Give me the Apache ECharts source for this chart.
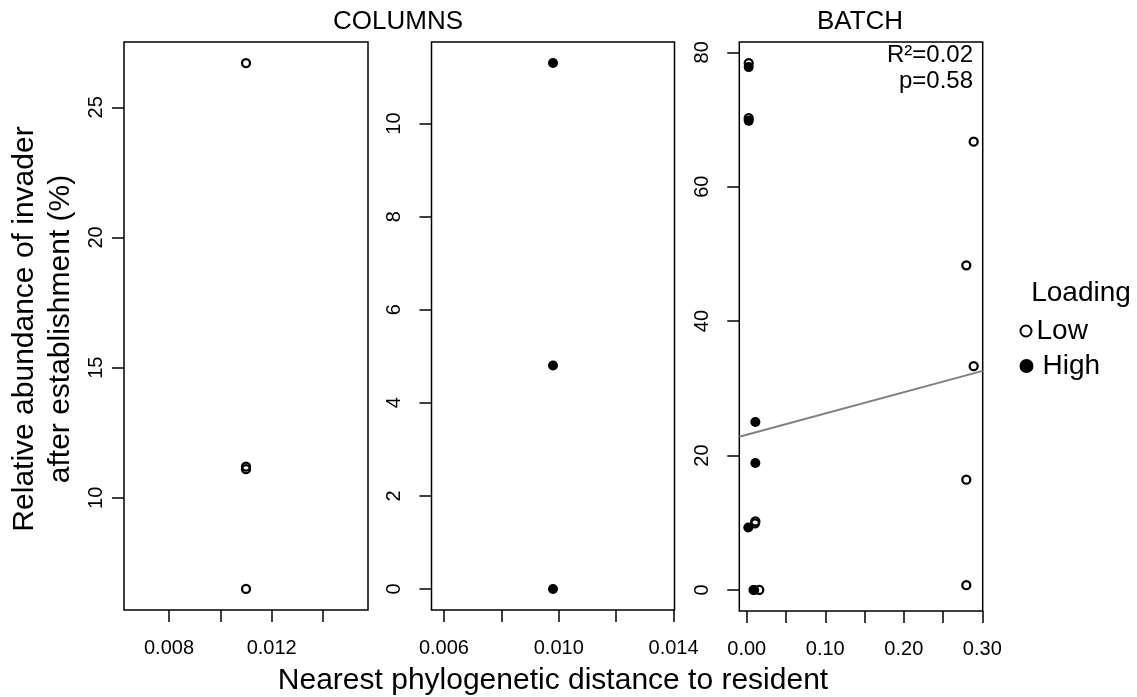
<!DOCTYPE html>
<html>
<head>
<meta charset="utf-8">
<script src="https://cdn.jsdelivr.net/npm/echarts@6/dist/echarts.min.js"></script>
<style>
  html, body { margin: 0; padding: 0; background: #fff; }
  #chart { width: 1137px; height: 697px; }
</style>
</head>
<body>
<div id="chart"></div>
<script>
// Relative abundance of the invader (%) after establishment, against the
// nearest phylogenetic distance to the resident community.

// COLUMNS, low loading
const columnsLowDist = [0.011, 0.011, 0.011, 0.011];
const columnsLowAbund = [26.7, 11.2, 11.1, 6.5];

// COLUMNS, high loading
const columnsHighDist = [0.0098, 0.0098, 0.0098];
const columnsHighAbund = [11.3, 4.8, 0];

// BATCH, low loading
const batchLowDist = [0.0025, 0.0025, 0.289, 0.2796, 0.289, 0.2796, 0.2796, 0.011, 0.0105, 0.016];
const batchLowAbund = [78.4, 70.2, 66.7, 48.3, 33.3, 16.4, 0.7, 10.2, 9.9, 0];

// BATCH, high loading
const batchHighDist = [0.0025, 0.0025, 0.011, 0.011, 0.002, 0.0085, 0.0095];
const batchHighAbund = [77.8, 69.8, 25.0, 18.9, 9.3, 0, 0];

// BATCH linear fit
const batchFitIntercept = 23.1;
const batchFitSlope = 31.6;
const batchR2 = '0.02';
const batchP = '0.58';

// tick marks and labelled ticks
const colLowXTicks = [0.008, 0.010, 0.012, 0.014];
const colLowXLabels = [0.008, 0.012];
const colHighXTicks = [0.006, 0.008, 0.010, 0.012, 0.014];
const colHighXLabels = [0.006, 0.010, 0.014];
const batchXTicks = [0, 0.05, 0.10, 0.15, 0.20, 0.25, 0.30];
const batchXLabels = [0, 0.10, 0.20, 0.30];
const colLowYTicks = [10, 15, 20, 25];
const colHighYTicks = [0, 2, 4, 6, 8, 10];
const batchYTicks = [0, 20, 40, 60, 80];

const legendTitle = 'Loading';
const legendNames = ['Low', 'High'];
const panelTitles = ['COLUMNS', 'BATCH'];
const xTitle = 'Nearest phylogenetic distance to resident';
const yTitleLines = ['Relative abundance of invader', 'after establishment (%)'];

// Axis range the way base graphics pads it: 4% each side,
// and +/-40% around a single repeated value.
function paddedRange(values) {
  let lo = Math.min(...values), hi = Math.max(...values);
  if (lo === hi) {
    const d = lo === 0 ? 1 : 0.4 * Math.abs(lo);
    lo -= d; hi += d;
  }
  const pad = 0.04 * (hi - lo);
  return [lo - pad, hi + pad];
}
const zip = (xs, ys) => xs.map((x, i) => [x, ys[i]]);

const FONT = '"Liberation Sans", Arial, sans-serif';
const lowItem = { color: 'rgba(0,0,0,0)', borderColor: '#000', borderWidth: 2.3, opacity: 1 };
const highItem = { color: '#000', borderWidth: 0, opacity: 1 };

const xr = [paddedRange(columnsLowDist), paddedRange(columnsHighDist),
            paddedRange(batchLowDist.concat(batchHighDist))];
const yr = [paddedRange(columnsLowAbund), paddedRange(columnsHighAbund),
            paddedRange(batchLowAbund.concat(batchHighAbund))];

const grids = [
  { left: 124, top: 42, width: 244, height: 568 },
  { left: 431.5, top: 42, width: 243, height: 568 },
  { left: 739.3, top: 42, width: 243.4, height: 569 }
].map(g => Object.assign(g, { show: true, borderColor: '#000', borderWidth: 1.5, backgroundColor: 'transparent' }));

const tickStyle = { color: '#000', width: 1.5 };

function xAxisFor(i, ticks, labels, digits) {
  return {
    type: 'value', gridIndex: i, position: 'bottom', min: xr[i][0], max: xr[i][1],
    axisLine: { show: false, onZero: false }, splitLine: { show: false },
    axisTick: { show: true, inside: false, length: 12, customValues: ticks, lineStyle: tickStyle },
    axisLabel: {
      customValues: labels, margin: 28, color: '#000', fontFamily: FONT, fontSize: 20,
      formatter: v => Number(v).toFixed(digits)
    }
  };
}
function yAxisFor(i, ticks, margin) {
  return {
    type: 'value', gridIndex: i, position: 'left', min: yr[i][0], max: yr[i][1],
    axisLine: { show: false, onZero: false }, splitLine: { show: false },
    axisTick: { show: true, inside: false, length: 12, customValues: ticks, lineStyle: tickStyle },
    axisLabel: {
      customValues: ticks, margin: margin, rotate: 90, color: '#000', fontFamily: FONT, fontSize: 20,
      formatter: v => String(Math.round(v))
    }
  };
}

const fitX = xr[2];
const fitLine = fitX.map(x => [x, batchFitIntercept + batchFitSlope * x]);

const chart = echarts.init(document.getElementById('chart'), null, { renderer: 'canvas' });
chart.setOption({
  animation: false,
  backgroundColor: '#fff',
  grid: grids,
  xAxis: [
    xAxisFor(0, colLowXTicks, colLowXLabels, 3),
    xAxisFor(1, colHighXTicks, colHighXLabels, 3),
    xAxisFor(2, batchXTicks, batchXLabels, 2)
  ],
  yAxis: [
    yAxisFor(0, colLowYTicks, 18),
    yAxisFor(1, colHighYTicks, 27),
    yAxisFor(2, batchYTicks, 27)
  ],
  legend: [
    {
      left: 1014.5, top: 312, itemWidth: 11, itemHeight: 11, selectedMode: false,
      textStyle: { fontFamily: FONT, fontSize: 28, color: '#000' },
      data: [{ name: legendNames[0], icon: 'circle', itemStyle: { color: 'rgba(0,0,0,0)', borderColor: '#000', borderWidth: 2 } }]
    },
    {
      left: 1014.5, top: 347, itemWidth: 22, itemHeight: 14, selectedMode: false,
      textStyle: { fontFamily: FONT, fontSize: 28, color: '#000' },
      data: [{ name: legendNames[1], icon: 'circle', itemStyle: { color: '#000', opacity: 1 } }]
    }
  ],
  series: [
    { name: legendNames[0], type: 'scatter', xAxisIndex: 0, yAxisIndex: 0, symbol: 'circle', symbolSize: 8,
      itemStyle: lowItem, data: zip(columnsLowDist, columnsLowAbund) },
    { name: legendNames[1], type: 'scatter', xAxisIndex: 1, yAxisIndex: 1, symbol: 'circle', symbolSize: 10,
      itemStyle: highItem, data: zip(columnsHighDist, columnsHighAbund) },
    { name: legendNames[1], type: 'scatter', xAxisIndex: 2, yAxisIndex: 2, symbol: 'circle', symbolSize: 10,
      itemStyle: highItem, data: zip(batchHighDist, batchHighAbund) },
    { name: legendNames[0], type: 'scatter', xAxisIndex: 2, yAxisIndex: 2, symbol: 'circle', symbolSize: 8,
      itemStyle: lowItem, data: zip(batchLowDist, batchLowAbund) },
    { name: 'fit', type: 'line', xAxisIndex: 2, yAxisIndex: 2, symbol: 'none', silent: true,
      lineStyle: { color: '#808080', width: 2 }, data: fitLine }
  ],
  graphic: [
    { type: 'text', x: 398, y: 22, style: { text: panelTitles[0], font: '26px ' + FONT, fill: '#000', textAlign: 'center', textVerticalAlign: 'middle' } },
    { type: 'text', x: 860, y: 22, style: { text: panelTitles[1], font: '26px ' + FONT, fill: '#000', textAlign: 'center', textVerticalAlign: 'middle' } },
    { type: 'text', x: 973, y: 55, style: { text: 'R²=' + batchR2, font: '24px ' + FONT, fill: '#000', textAlign: 'right', textVerticalAlign: 'middle' } },
    { type: 'text', x: 973, y: 81, style: { text: 'p=' + batchP, font: '24px ' + FONT, fill: '#000', textAlign: 'right', textVerticalAlign: 'middle' } },
    { type: 'text', x: 553, y: 681, style: { text: xTitle, font: '30px ' + FONT, fill: '#000', textAlign: 'center', textVerticalAlign: 'middle' } },
    { type: 'text', x: 25, y: 329, rotation: Math.PI / 2, style: { text: yTitleLines[0], font: '30px ' + FONT, fill: '#000', textAlign: 'center', textVerticalAlign: 'middle' } },
    { type: 'text', x: 61, y: 329, rotation: Math.PI / 2, style: { text: yTitleLines[1], font: '30px ' + FONT, fill: '#000', textAlign: 'center', textVerticalAlign: 'middle' } },
    { type: 'text', x: 1081, y: 293, style: { text: legendTitle, font: '28px ' + FONT, fill: '#000', textAlign: 'center', textVerticalAlign: 'middle' } }
  ]
});
</script>
</body>
</html>
